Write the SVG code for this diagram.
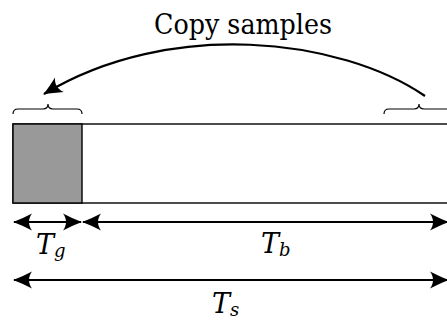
<svg xmlns="http://www.w3.org/2000/svg" width="447" height="320" viewBox="0 0 447 320">
<style>
.lbl{font-family:'DejaVu Serif','Liberation Serif',serif;fill:#000}
.it{font-style:italic}
.dim{stroke:#000;stroke-width:2.2;fill:none}
.brace{stroke:#000;stroke-width:1.2;fill:none}
</style>
<defs>
<marker id="ah" markerUnits="userSpaceOnUse" markerWidth="24" markerHeight="24" viewBox="-20 -12 24 24" refX="0" refY="0" orient="auto-start-reverse" overflow="visible">
<path d="M1,0 C-6,-2.5 -12,-5.5 -18,-8.5 C-14,-3 -14,3 -18,8.5 C-12,5.5 -6,2.5 1,0 Z" fill="#000"/>
</marker>
</defs>
<rect width="447" height="320" fill="#fff"/>
<g id="symbol">
<rect x="13" y="124" width="440" height="79" fill="#fff" stroke="#000" stroke-width="1.4"/>
<rect x="13" y="124" width="69" height="79" fill="#999" stroke="#000" stroke-width="1.4"/>
</g>
<g id="guard-brace">
<path class="brace" d="M13,114 Q13,109 18,109 L43,109 Q48,109 48,104 Q48,109 53,109 L77,109 Q82,109 82,114"/>
</g>
<g id="tail-brace">
<path class="brace" d="M384,114 Q384,109 389,109 L414,109 Q419,109 419,104 Q419,109 424,109 L449,109 Q454,109 454,114"/>
</g>
<g id="copy-label">
<text class="lbl" x="154" y="34" font-size="28.5" textLength="178" lengthAdjust="spacingAndGlyphs">Copy samples</text>
</g>
<g id="connectors">
<path d="M425,96 C340,38 170,18 44,94" fill="none" stroke="#000" stroke-width="2.2" marker-end="url(#ah)"/>
<line class="dim" x1="14" y1="222" x2="81" y2="222" marker-start="url(#ah)" marker-end="url(#ah)"/>
<line class="dim" x1="83" y1="222" x2="448" y2="222" marker-start="url(#ah)" marker-end="url(#ah)"/>
<line class="dim" x1="14" y1="280" x2="448" y2="280" marker-start="url(#ah)" marker-end="url(#ah)"/>
</g>
<g id="tg-label">
<text class="lbl it" x="36" y="254" font-size="27">T<tspan font-size="18" dy="3">g</tspan></text>
</g>
<g id="tb-label">
<text class="lbl it" x="261" y="253" font-size="27">T<tspan font-size="18" dy="3">b</tspan></text>
</g>
<g id="ts-label">
<text class="lbl it" x="212" y="313" font-size="27">T<tspan font-size="18" dy="3">s</tspan></text>
</g>
</svg>
